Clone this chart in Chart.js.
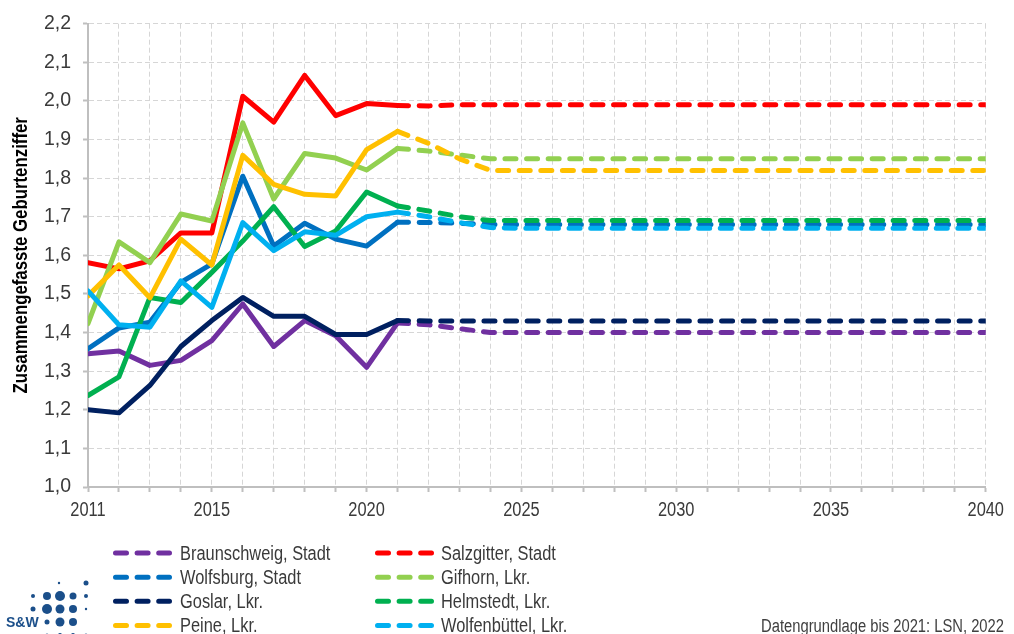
<!DOCTYPE html>
<html>
<head>
<meta charset="utf-8">
<script src="https://cdn.jsdelivr.net/npm/chart.js@4.4.1/dist/chart.umd.min.js"></script>
<style>
  html, body { margin: 0; padding: 0; background: #fff; overflow: hidden; }
  #wrap { position: relative; width: 1014px; height: 634px; }
</style>
</head>
<body>
<div id="wrap"><canvas id="c" width="1014" height="634"></canvas></div>
<script>
// Observed years (solid) and projection years (dashed)
const histYears = [2011, 2012, 2013, 2014, 2015, 2016, 2017, 2018, 2019, 2020, 2021];
const projYears = [2022, 2023, 2024, 2025, 2030, 2035, 2040];
const gridYears = [2011, 2012, 2013, 2014, 2015, 2016, 2017, 2018, 2019, 2020, 2021, 2022, 2023, 2024, 2025,
                   2026, 2027, 2028, 2029, 2030, 2031, 2032, 2033, 2034, 2035, 2036, 2037, 2038, 2039, 2040];
const xTickLabels = [2011, 2015, 2020, 2025, 2030, 2035, 2040];

// Total fertility rate per district
const braunschweig     = [1.345, 1.352, 1.315, 1.328, 1.379, 1.474, 1.364, 1.431, 1.392, 1.310, 1.425];
const braunschweigProj = [1.42, 1.41, 1.40, 1.40, 1.40, 1.40, 1.40];
const salzgitter       = [1.581, 1.565, 1.586, 1.658, 1.658, 2.012, 1.945, 2.066, 1.962, 1.993, 1.988];
const salzgitterProj   = [1.987, 1.99, 1.99, 1.99, 1.99, 1.99, 1.99];
const wolfsburg        = [1.358, 1.412, 1.427, 1.530, 1.578, 1.805, 1.624, 1.683, 1.642, 1.624, 1.686];
const wolfsburgProj    = [1.685, 1.683, 1.68, 1.68, 1.68, 1.68, 1.68];
const gifhorn          = [1.423, 1.635, 1.581, 1.707, 1.689, 1.943, 1.746, 1.864, 1.852, 1.821, 1.877];
const gifhornProj      = [1.87, 1.86, 1.85, 1.85, 1.85, 1.85, 1.85];
const goslar           = [1.200, 1.192, 1.263, 1.364, 1.431, 1.491, 1.442, 1.442, 1.395, 1.395, 1.431];
const goslarProj       = [1.43, 1.43, 1.43, 1.43, 1.43, 1.43, 1.43];
const helmstedt        = [1.237, 1.285, 1.491, 1.478, 1.556, 1.637, 1.726, 1.623, 1.663, 1.764, 1.728];
const helmstedtProj    = [1.715, 1.70, 1.69, 1.69, 1.69, 1.69, 1.69];
const peine            = [1.495, 1.575, 1.490, 1.642, 1.575, 1.859, 1.784, 1.758, 1.754, 1.874, 1.921];
const peineProj        = [1.89, 1.85, 1.82, 1.82, 1.82, 1.82, 1.82];
const wolfenbuettel    = [1.508, 1.420, 1.414, 1.534, 1.465, 1.685, 1.612, 1.661, 1.652, 1.700, 1.712];
const wolfenbuettelProj= [1.70, 1.685, 1.672, 1.67, 1.67, 1.67, 1.67];

const seriesNames = ['Braunschweig, Stadt', 'Salzgitter, Stadt', 'Wolfsburg, Stadt', 'Gifhorn, Lkr.',
                     'Goslar, Lkr.', 'Helmstedt, Lkr.', 'Peine, Lkr.', 'Wolfenbüttel, Lkr.'];
const seriesHist = [braunschweig, salzgitter, wolfsburg, gifhorn, goslar, helmstedt, peine, wolfenbuettel];
const seriesProj = [braunschweigProj, salzgitterProj, wolfsburgProj, gifhornProj, goslarProj, helmstedtProj, peineProj, wolfenbuettelProj];
const seriesColors = ['#7030A0', '#FF0000', '#0070C0', '#92D050', '#002060', '#00B050', '#FFC000', '#00B0F0'];

const lastObservedYear = 2021;
const projDash = [11, 10.6];
const FONT = "'Liberation Sans', Arial, sans-serif";
const TEXT = '#3a3a3a';
const Y_TICK_SIZE = 19.5;

// Condensed lettering: Arial Narrow is not available, so text is drawn
// with Liberation Sans squeezed horizontally around its anchor point.
// The y tick labels keep their normal width.
const NARROW = 0.82;
const canvas = document.getElementById('c');
const ctx2d = canvas.getContext('2d');
const rawFillText = ctx2d.fillText.bind(ctx2d);
let condensed = true;
ctx2d.fillText = function (text, x, y) {
  if (!condensed || this.font.indexOf(Y_TICK_SIZE + 'px') !== -1) { rawFillText(text, x, y); return; }
  this.save();
  this.translate(x, y);
  this.scale(NARROW, 1);
  rawFillText(text, 0, 0);
  this.restore();
};

function toPoints(hist, proj) {
  const pts = hist.map((v, i) => ({ x: histYears[i], y: v }));
  return pts.concat(proj.map((v, i) => ({ x: projYears[i], y: v })));
}

const datasets = seriesNames.map((name, i) => ({
  label: name,
  data: toPoints(seriesHist[i], seriesProj[i]),
  borderColor: seriesColors[i],
  backgroundColor: seriesColors[i],
  borderWidth: 5,
  borderDash: projDash,
  borderCapStyle: 'round',
  borderJoinStyle: 'round',
  pointRadius: 0,
  tension: 0,
  fill: false,
  order: seriesNames.length - i,
  segment: {
    borderDash: ctx => (ctx.p0.parsed.x >= lastObservedYear ? projDash : [])
  }
}));

// Legend in two columns, logo and source note below the plot
const bottomDecor = {
  id: 'bottomDecor',
  afterDraw(chart) {
    const ctx = chart.ctx;
    ctx.save();
    // legend
    const cols = [{ sx: 115.5, tx: 180 }, { sx: 377.5, tx: 441 }];
    const rowY = [553, 577.3, 601.3, 625.5];
    const items = chart.data.datasets;
    const order = [[0, 2, 4, 6], [1, 3, 5, 7]];
    ctx.font = '20px ' + FONT;
    ctx.textBaseline = 'middle';
    ctx.textAlign = 'left';
    order.forEach((col, c) => {
      col.forEach((di, r) => {
        const ds = items[di];
        const y = rowY[r];
        ctx.beginPath();
        ctx.setLineDash(projDash);
        ctx.lineCap = 'round';
        ctx.lineWidth = 5;
        ctx.strokeStyle = ds.borderColor;
        ctx.moveTo(cols[c].sx, y);
        ctx.lineTo(cols[c].sx + 54, y);
        ctx.stroke();
        ctx.setLineDash([]);
        ctx.fillStyle = TEXT;
        ctx.fillText(ds.label, cols[c].tx, y + 1);
      });
    });
    // source note
    ctx.textAlign = 'right';
    ctx.textBaseline = 'alphabetic';
    ctx.font = '18px ' + FONT;
    ctx.fillStyle = '#404040';
    ctx.fillText('Datengrundlage bis 2021: LSN, 2022', 1004, 632);
    // logo
    const blue = '#1B4F8A';
    ctx.fillStyle = blue;
    const dots = [
      [59, 583, 1.2], [86, 583, 2.5],
      [33, 596, 2], [47, 596, 4], [60, 596, 5], [73, 596, 3.5], [86, 596, 2],
      [33, 609, 2.5], [47, 609, 5], [60, 609, 4.5], [73, 609, 4], [86, 609, 1.2],
      [47, 622, 2.5], [60, 622, 4.5], [73, 622, 4],
      [47, 635, 1.5], [60, 635, 2], [73, 635, 2], [86, 635, 1.5]
    ];
    dots.forEach(([x, y, r]) => { ctx.beginPath(); ctx.arc(x, y, r, 0, Math.PI * 2); ctx.fill(); });
    condensed = false;
    ctx.font = 'bold 14px ' + FONT;
    ctx.textAlign = 'left';
    ctx.textBaseline = 'middle';
    ctx.fillText('S&W', 6, 623);
    condensed = true;
    ctx.restore();
  }
};

new Chart(canvas, {
  type: 'line',
  data: { datasets },
  plugins: [bottomDecor],
  options: {
    responsive: false,
    animation: false,
    devicePixelRatio: 1,
    layout: { padding: { left: 0, right: 23, top: 23, bottom: 107 } },
    plugins: { legend: { display: false }, tooltip: { enabled: false } },
    scales: {
      x: {
        type: 'linear',
        min: 2011,
        max: 2040,
        afterFit: s => { s.height = 40; },
        afterBuildTicks: s => { s.ticks = gridYears.map(v => ({ value: v })); },
        ticks: {
          autoSkip: false,
          maxRotation: 0,
          padding: 6,
          color: TEXT,
          font: { family: FONT, size: 20 },
          callback: v => (xTickLabels.includes(v) ? String(v) : '')
        },
        grid: { color: '#d6d6d6', lineWidth: 1, tickLength: 5, tickColor: '#bfbfbf', tickWidth: 2 },
        border: { color: '#bfbfbf', width: 2, dash: [5, 3] }
      },
      y: {
        min: 1.0,
        max: 2.2,
        afterFit: s => { s.width = 88; },
        ticks: {
          stepSize: 0.1,
          padding: 12,
          color: TEXT,
          font: { family: FONT, size: Y_TICK_SIZE },
          callback: v => v.toFixed(1).replace('.', ',')
        },
        grid: { color: '#d6d6d6', lineWidth: 1, tickLength: 5, tickColor: '#bfbfbf', tickWidth: 2 },
        border: { color: '#bfbfbf', width: 2, dash: [5, 3] },
        title: {
          display: true,
          text: 'Zusammengefasste Geburtenziffer',
          color: '#000',
          font: { family: FONT, size: 20.5, weight: 'bold' },
          padding: { top: 9, bottom: 0 }
        }
      }
    }
  }
});
</script>
</body>
</html>
